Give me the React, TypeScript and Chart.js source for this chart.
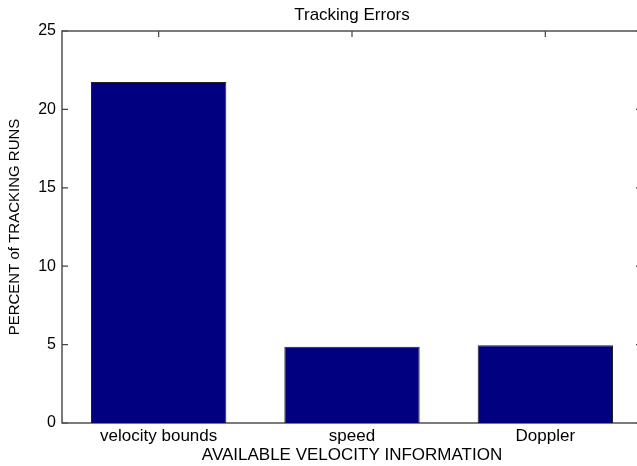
import React, { useEffect, useRef } from "react";
import { Chart, registerables } from "chart.js";

Chart.register(...registerables);

const categories = ["velocity bounds", "speed", "Doppler"];
const percentValues = [21.75, 4.87, 4.96];
const yTicks = [0, 5, 10, 15, 20, 25];
const titleText = "Tracking Errors";
const xTitle = "AVAILABLE VELOCITY INFORMATION";
const yTitle = "PERCENT of TRACKING RUNS";

const FONT = "'Liberation Sans', Arial, sans-serif";

const boxPlugin = {
  id: "matlabBox",
  beforeDatasetsDraw(chart: any) {
    const { ctx, chartArea } = chart;
    const { left, right, top, bottom } = chartArea;
    const xs = chart.scales.x;
    const ys = chart.scales.y;
    ctx.save();
    ctx.strokeStyle = "#444";
    ctx.lineWidth = 1.4;
    ctx.strokeRect(left, top, right - left, bottom - top);
    ctx.lineWidth = 1.2;
    ctx.beginPath();
    const tl = 6;
    yTicks.forEach((v) => {
      const y = ys.getPixelForValue(v);
      ctx.moveTo(left, y);
      ctx.lineTo(left + tl, y);
      ctx.moveTo(right, y);
      ctx.lineTo(right - tl, y);
    });
    categories.forEach((_, i) => {
      const x = xs.getPixelForValue(i);
      ctx.moveTo(x, top);
      ctx.lineTo(x, top + tl);
      ctx.moveTo(x, bottom);
      ctx.lineTo(x, bottom - tl);
    });
    ctx.stroke();
    ctx.restore();
  },
};

export default function App() {
  const ref = useRef<HTMLCanvasElement>(null);
  useEffect(() => {
    document.body.style.overflow = "hidden";
    document.documentElement.style.overflow = "hidden";
    const canvas = ref.current!;
    const chart = new Chart(canvas, {
      type: "bar",
      data: {
        labels: categories,
        datasets: [
          {
            data: percentValues,
            backgroundColor: "#000080",
            borderColor: "#222",
            borderWidth: 1,
            barPercentage: 0.7,
            categoryPercentage: 1,
          },
        ],
      },
      options: {
        responsive: false,
        animation: false,
        devicePixelRatio: 1,
        layout: { padding: { left: 0, right: 3, top: 0, bottom: 0 } },
        plugins: {
          legend: { display: false },
          tooltip: { enabled: false },
          title: {
            display: true,
            fullSize: false,
            text: titleText,
            color: "#000",
            font: { family: FONT, size: 17, weight: "normal" },
            padding: { top: 5, bottom: 5.6 },
          },
        },
        scales: {
          x: {
            type: "category",
            grid: { display: false, drawTicks: false },
            border: { display: false },
            ticks: {
              color: "#000",
              font: { family: FONT, size: 17 },
              padding: 3,
              maxRotation: 0,
            },
            title: {
              display: true,
              text: xTitle,
              color: "#000",
              font: { family: FONT, size: 17 },
              padding: { top: 0, bottom: 0 },
            },
            afterFit(scale: any) {
              scale.height = 43;
            },
          },
          y: {
            min: 0,
            max: 25,
            afterBuildTicks(scale: any) {
              scale.ticks = yTicks.map((v) => ({ value: v }));
            },
            grid: { display: false, drawTicks: false },
            border: { display: false },
            ticks: {
              color: "#000",
              font: { family: FONT, size: 16 },
              padding: 6,
            },
            title: {
              display: true,
              text: yTitle,
              color: "#000",
              font: { family: FONT, size: 15 },
              padding: { top: 6, bottom: 0 },
            },
            afterFit(scale: any) {
              scale.width = 62;
            },
          },
        },
      },
      plugins: [boxPlugin],
    });
    return () => chart.destroy();
  }, []);
  return (
    <canvas
      ref={ref}
      width={645}
      height={466}
      style={{ position: "fixed", left: 0, top: 0, background: "#fff" }}
    />
  );
}
